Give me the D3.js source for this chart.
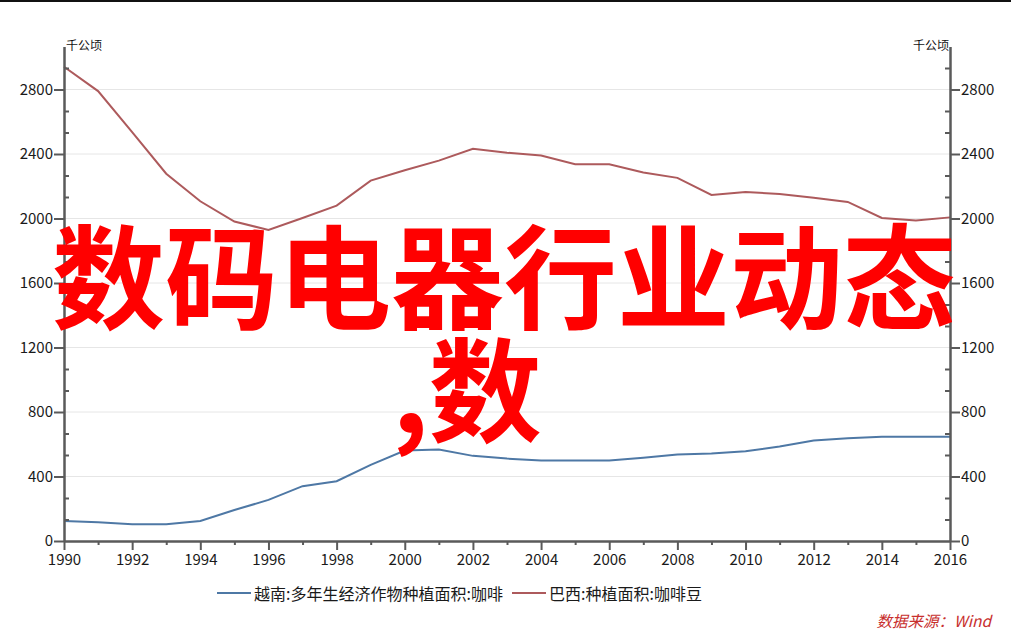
<!DOCTYPE html>
<html>
<head>
<meta charset="utf-8">
<script src="https://cdn.jsdelivr.net/npm/d3@7"></script>
<style>
  html, body { margin: 0; padding: 0; background: #fff; }
  svg { display: block; font-family: "Noto Sans CJK SC", "Noto Sans", sans-serif; }
  .axis path, .axis line { stroke: #5a5a5a; }
  .axis text { fill: #1a1a1a; font-size: 15px; font-family: "Noto Sans CJK SC", "Noto Sans", sans-serif; }
</style>
</head>
<body>
<div id="chart"></div>
<script>
// years on the x axis
const years = d3.range(1990, 2017);

// 越南:多年生经济作物种植面积:咖啡 (千公顷)
const vietnam = [124, 116, 104, 104, 124, 192, 255, 340, 371, 472, 561, 567, 528, 511,
  499, 499, 499, 517, 536, 542, 557, 586, 623, 637, 646, 646, 646];

// 巴西:种植面积:咖啡豆 (千公顷)
const brazil = [2941, 2790, 2535, 2278, 2107, 1981, 1929, 2003, 2080, 2235, 2299, 2359, 2432, 2408,
  2390, 2336, 2336, 2285, 2252, 2146, 2165, 2152, 2128, 2103, 2003, 1987, 2007];

const seriesNames = ['越南:多年生经济作物种植面积:咖啡', '巴西:种植面积:咖啡豆'];
const yMajorTicks = [0, 400, 800, 1200, 1600, 2000, 2400, 2800];
const xMajorTicks = d3.range(1990, 2017, 2);
const unitLabel = '千公顷';
const sourceLabel = '数据来源：Wind';
const overlayLines = ['数码电器行业动态', ',数'];

const W = 1011, H = 632;
const margin = { top: 46.5, right: 61, bottom: 91, left: 64 };
const width = W - margin.left - margin.right;
const height = H - margin.top - margin.bottom;

const svg = d3.select('#chart')
  .append('svg')
  .attr('width', W)
  .attr('height', H);

// thin black border along the top edge
svg.append('rect')
  .attr('x', 0).attr('y', 0)
  .attr('width', W).attr('height', 2)
  .attr('fill', '#111');

const g = svg.append('g')
  .attr('transform', `translate(${margin.left},${margin.top})`);

const x = d3.scaleLinear()
  .domain([1990, 2016])
  .range([0, width]);

const y = d3.scaleLinear()
  .domain([0, 2800 + 800 / 3])
  .range([height, 0]);

const yMinor = d3.range(0, 3066, 400 / 3).filter(v => !yMajorTicks.some(t => Math.abs(t - v) < 1));
const xMinor = years.filter(v => v % 2 === 1);
const fmt = d3.format('d');

// grid lines
g.append('g')
  .selectAll('line')
  .data(yMajorTicks.filter(d => d > 0))
  .enter()
  .append('line')
  .attr('x1', 0)
  .attr('x2', width)
  .attr('y1', d => y(d))
  .attr('y2', d => y(d))
  .attr('stroke', '#e6e6e6')
  .attr('stroke-width', 1);

// lines
const line = d3.line()
  .x((d, i) => x(years[i]))
  .y(d => y(d));

g.append('path')
  .datum(brazil)
  .attr('fill', 'none')
  .attr('stroke', '#ad5a5c')
  .attr('stroke-width', 2)
  .attr('d', line);

g.append('path')
  .datum(vietnam)
  .attr('fill', 'none')
  .attr('stroke', '#4e78a5')
  .attr('stroke-width', 2)
  .attr('d', line);

// left axis: major ticks outside, minor ticks inside
g.append('g')
  .attr('class', 'axis')
  .call(d3.axisLeft(y).tickValues(yMajorTicks).tickFormat(fmt).tickSize(10).tickPadding(1).tickSizeOuter(0));
g.append('g')
  .attr('class', 'axis')
  .call(d3.axisRight(y).tickValues(yMinor).tickSize(5).tickFormat('').tickSizeOuter(0))
  .select('.domain').remove();

// right axis
g.append('g')
  .attr('class', 'axis')
  .attr('transform', `translate(${width},0)`)
  .call(d3.axisRight(y).tickValues(yMajorTicks).tickFormat(fmt).tickSize(10).tickPadding(1).tickSizeOuter(0));
g.append('g')
  .attr('class', 'axis')
  .attr('transform', `translate(${width},0)`)
  .call(d3.axisLeft(y).tickValues(yMinor).tickSize(5).tickFormat('').tickSizeOuter(0))
  .select('.domain').remove();

// bottom axis
g.append('g')
  .attr('class', 'axis')
  .attr('transform', `translate(0,${height})`)
  .call(d3.axisBottom(x).tickValues(xMajorTicks).tickFormat(fmt).tickSize(9).tickPadding(4).tickSizeOuter(0));
g.append('g')
  .attr('class', 'axis')
  .attr('transform', `translate(0,${height})`)
  .call(d3.axisBottom(x).tickValues(xMinor).tickSize(4).tickFormat('').tickSizeOuter(0))
  .select('.domain').remove();

g.selectAll('.axis path.domain').attr('stroke-width', 2.5);
g.selectAll('.axis .tick line').attr('stroke-width', 2);

// unit labels
g.append('text')
  .attr('x', 2)
  .attr('y', 3)
  .attr('font-size', 12)
  .attr('fill', '#111')
  .text(unitLabel);
g.append('text')
  .attr('x', width - 1)
  .attr('y', 3)
  .attr('text-anchor', 'end')
  .attr('font-size', 12)
  .attr('fill', '#111')
  .text(unitLabel);

// legend
const legendItems = [
  { name: seriesNames[0], color: '#4e78a5', x: 217 },
  { name: seriesNames[1], color: '#ad5a5c', x: 512 }
];
const legend = svg.append('g');
legendItems.forEach(item => {
  legend.append('line')
    .attr('x1', item.x).attr('x2', item.x + 34)
    .attr('y1', 593).attr('y2', 593)
    .attr('stroke', item.color)
    .attr('stroke-width', 2);
  legend.append('text')
    .attr('x', item.x + 37)
    .attr('y', 593)
    .attr('dominant-baseline', 'central')
    .attr('font-size', 16)
    .attr('fill', '#1a1a1a')
    .text(item.name);
});

// source note
svg.append('text')
  .attr('x', 991)
  .attr('y', 620)
  .attr('dominant-baseline', 'central')
  .attr('text-anchor', 'end')
  .attr('font-size', 15.5)
  .attr('font-style', 'italic')
  .attr('fill', '#c8302e')
  .text(sourceLabel);

// big red overlay text
svg.append('text')
  .attr('x', 52)
  .attr('y', 271)
  .attr('dominant-baseline', 'central')
  .attr('font-size', 113)
  .attr('font-weight', 'bold')
  .attr('fill', '#ff0000')
  .text(overlayLines[0]);
svg.append('text')
  .attr('x', 392)
  .attr('y', 384)
  .attr('dominant-baseline', 'central')
  .attr('font-size', 113)
  .attr('font-weight', 'bold')
  .attr('fill', '#ff0000')
  .text(overlayLines[1]);
</script>
</body>
</html>
